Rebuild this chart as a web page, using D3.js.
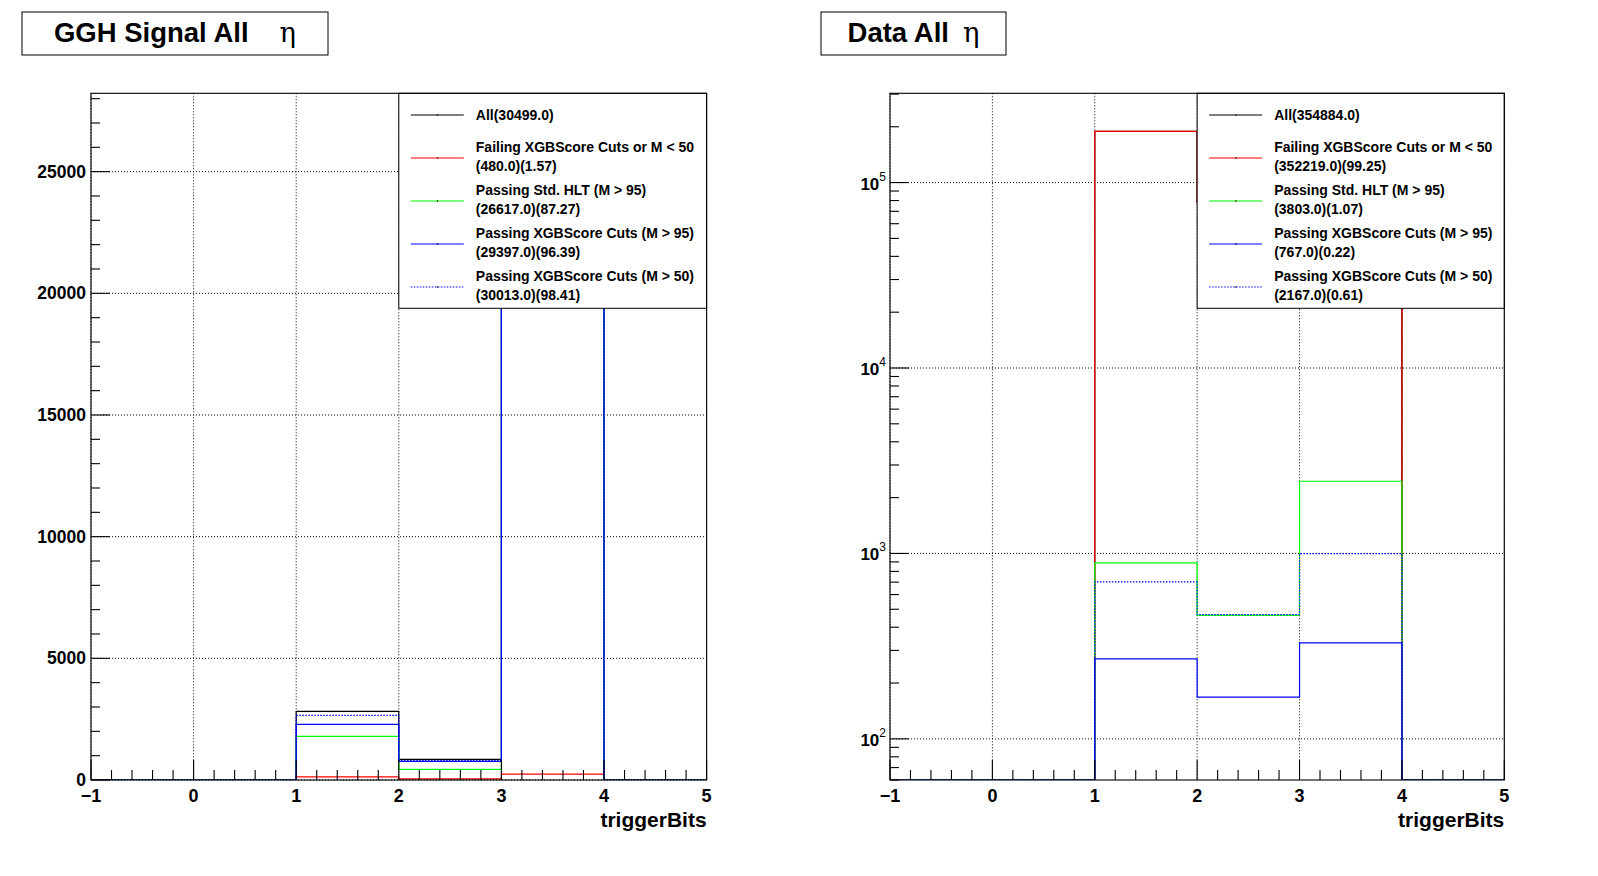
<!DOCTYPE html>
<html>
<head>
<meta charset="utf-8">
<script src="https://cdn.jsdelivr.net/npm/d3@7"></script>
<style>
	body { margin: 0; background: #fff; }
	svg text { font-family: "Liberation Sans", Arial, sans-serif; font-weight: bold; fill: #000; }
</style>
</head>
<body>
<div class="c-svg"></div>
<script>
//DATA
//-------------------------------------------------------------------------

//bin edges of triggerBits (6 bins of width 1)
const binEdges = [-1, 0, 1, 2, 3, 4, 5];

const seriesNames = [
	"All",
	"Failing XGBScore Cuts or M < 50",
	"Passing Std. HLT (M > 95)",
	"Passing XGBScore Cuts (M > 95)",
	"Passing XGBScore Cuts (M > 50)"
];

//GGH signal, bin contents per series
const sigAll    = [0, 0, 2822, 850, 26827, 0];
const sigFail   = [0, 0, 130, 45, 240, 0];
const sigStdHlt = [0, 0, 1795, 440, 24382, 0];
const sigXgb95  = [0, 0, 2288, 768, 26341, 0];
const sigXgb50  = [0, 0, 2658, 800, 26555, 0];
const sigTotals   = [30499.0, 480.0, 26617.0, 29397.0, 30013.0];
const sigPercents = [null, 1.57, 87.27, 96.39, 98.41];

//data, bin contents per series
const datAll    = [0, 0, 189000, 78900, 86984, 0];
const datFail   = [0, 0, 188800, 78000, 85419, 0];
const datStdHlt = [0, 0, 889, 463, 2451, 0];
const datXgb95  = [0, 0, 270, 168, 329, 0];
const datXgb50  = [0, 0, 702, 468, 997, 0];
const datTotals   = [354884.0, 352219.0, 3803.0, 767.0, 2167.0];
const datPercents = [null, 99.25, 1.07, 0.22, 0.61];

//tick values
const xTicks = [-1, 0, 1, 2, 3, 4, 5];
const linTicks = [0, 5000, 10000, 15000, 20000, 25000];
const logTicks = [100, 1000, 10000, 100000];


//STYLE
//-------------------------------------------------------------------------

const seriesStyle = [
	{ color: "#000000", dash: null },
	{ color: "#ff0000", dash: null },
	{ color: "#00ff00", dash: null },
	{ color: "#0000ff", dash: null },
	{ color: "#0000ff", dash: "1.5,1.5" }
];

const opts = { width: 1598, height: 876 };

const panels = [
	{
		title: "GGH Signal All", etaGap: 31,
		titleBox: { x: 22, y: 12, w: 306, h: 43 },
		frame: { left: 91, top: 93.3, right: 706.6, bottom: 780 },
		log: false, yMin: 0, yTop: 28220,
		series: [sigAll, sigFail, sigStdHlt, sigXgb95, sigXgb50],
		totals: sigTotals, percents: sigPercents
	},
	{
		title: "Data All", etaGap: 14,
		titleBox: { x: 821, y: 12, w: 185, h: 43 },
		frame: { left: 890, top: 93.3, right: 1504.3, bottom: 780 },
		log: true, yMin: 60, yTop: 303000,
		series: [datAll, datFail, datStdHlt, datXgb95, datXgb50],
		totals: datTotals, percents: datPercents
	}
];


//INITIALISATION svg
//-------------------------------------------------------------------------

const svg = d3.select(".c-svg")
	.append("svg")
	.attr("width", opts.width)
	.attr("height", opts.height);

panels.forEach((p, pi) => drawPanel(p, pi));


function drawPanel(p, pi) {

	const f = p.frame;
	const g = svg.append("g").attr("class", "panel" + pi);

	const x = d3.scaleLinear()
		.domain([binEdges[0], binEdges[binEdges.length - 1]])
		.range([f.left, f.right]);

	const y = (p.log ? d3.scaleLog() : d3.scaleLinear())
		.domain([p.yMin, p.yTop])
		.range([f.bottom, f.top]);

	//values at or under the minimum go to the frame bottom
	const yPos = (v) => (v <= p.yMin ? f.bottom : y(v));

	//TITLE
	//---------------------------------------------------------------------
	g.append("rect")
		.attr("x", p.titleBox.x).attr("y", p.titleBox.y)
		.attr("width", p.titleBox.w).attr("height", p.titleBox.h)
		.attr("fill", "#fff").attr("stroke", "#000").attr("stroke-width", 1);

	const title = g.append("text")
		.attr("x", p.titleBox.x + p.titleBox.w / 2)
		.attr("y", p.titleBox.y + 30)
		.attr("text-anchor", "middle")
		.style("font-size", "27.5px");
	title.append("tspan").text(p.title);
	title.append("tspan")
		.attr("dx", p.etaGap)
		.style("font-family", "'DejaVu Serif', 'Liberation Serif', serif")
		.style("font-weight", "normal")
		.text("η");

	//GRID
	//---------------------------------------------------------------------
	const clipId = "clip" + pi;
	g.append("clipPath").attr("id", clipId)
		.append("rect")
		.attr("x", f.left).attr("y", f.top)
		.attr("width", f.right - f.left).attr("height", f.bottom - f.top);

	const grid = g.append("g").attr("class", "grid")
		.attr("stroke", "#000").attr("stroke-width", 1).attr("stroke-dasharray", "1,2");

	grid.selectAll(".gx").data(xTicks).join("line")
		.attr("x1", (d) => x(d)).attr("x2", (d) => x(d))
		.attr("y1", f.top).attr("y2", f.bottom);

	const yMajor = p.log ? logTicks : linTicks;
	grid.selectAll(".gy").data(yMajor).join("line")
		.attr("x1", f.left).attr("x2", f.right)
		.attr("y1", (d) => y(d)).attr("y2", (d) => y(d));

	//HISTOGRAMS
	//---------------------------------------------------------------------
	const line = d3.line()
		.x((d) => x(d[0]))
		.y((d) => yPos(d[1]));

	const hists = g.append("g").attr("clip-path", `url(#${clipId})`);

	p.series.forEach((vals, si) => {
		const pts = [];
		vals.forEach((v, i) => {
			pts.push([binEdges[i], v]);
			pts.push([binEdges[i + 1], v]);
		});
		hists.append("path")
			.attr("d", line(pts))
			.attr("fill", "none")
			.attr("stroke", seriesStyle[si].color)
			.attr("stroke-width", 1.2)
			.attr("stroke-dasharray", seriesStyle[si].dash);
	});

	//LEGEND
	//---------------------------------------------------------------------
	const lg = g.append("g").attr("class", "legend");
	const lx = x(2);
	lg.append("rect")
		.attr("x", lx).attr("y", f.top)
		.attr("width", f.right - lx).attr("height", 215)
		.attr("fill", "#fff").attr("stroke", "#000").attr("stroke-width", 1);

	seriesNames.forEach((name, si) => {
		const sy = f.top + 21.7 + si * 43;
		lg.append("line")
			.attr("x1", lx + 12).attr("x2", lx + 65)
			.attr("y1", sy).attr("y2", sy)
			.attr("stroke", seriesStyle[si].color)
			.attr("stroke-width", 1.2)
			.attr("stroke-dasharray", seriesStyle[si].dash);
		lg.append("rect")
			.attr("x", lx + 38).attr("y", sy - 0.6)
			.attr("width", 1.4).attr("height", 1.2)
			.attr("fill", "#000");

		const t = lg.append("text").style("font-size", "14px");
		if (p.percents[si] === null) {
			t.attr("x", lx + 77).attr("y", sy + 5)
				.text(`${name}(${p.totals[si].toFixed(1)})`);
		} else {
			t.append("tspan").attr("x", lx + 77).attr("y", sy - 6)
				.text(name);
			t.append("tspan").attr("x", lx + 77).attr("y", sy + 13)
				.text(`(${p.totals[si].toFixed(1)})(${p.percents[si].toFixed(2)})`);
		}
	});

	//AXES
	//---------------------------------------------------------------------
	const ax = g.append("g").attr("class", "axes")
		.attr("stroke", "#000").attr("stroke-width", 1.1);

	//x ticks
	const xMinor = [];
	xTicks.slice(0, -1).forEach((t) => {
		[0.2, 0.4, 0.6, 0.8].forEach((s) => xMinor.push(t + s));
	});
	ax.selectAll(".xt").data(xTicks).join("line")
		.attr("x1", (d) => x(d)).attr("x2", (d) => x(d))
		.attr("y1", f.bottom).attr("y2", f.bottom - 20);
	ax.selectAll(".xm").data(xMinor).join("line")
		.attr("x1", (d) => x(d)).attr("x2", (d) => x(d))
		.attr("y1", f.bottom).attr("y2", f.bottom - 10);

	//y ticks
	let yMinor = [];
	if (p.log) {
		[10, 100, 1000, 10000, 100000].forEach((dec) => {
			d3.range(2, 10).forEach((k) => yMinor.push(k * dec));
		});
	} else {
		yMinor = d3.range(1000, p.yTop, 1000).filter((v) => v % 5000 !== 0);
	}
	yMinor = yMinor.filter((v) => v >= p.yMin && v <= p.yTop);

	ax.selectAll(".yt").data(yMajor).join("line")
		.attr("x1", f.left).attr("x2", f.left + 19)
		.attr("y1", (d) => y(d)).attr("y2", (d) => y(d));
	ax.selectAll(".ym").data(yMinor).join("line")
		.attr("x1", f.left).attr("x2", f.left + 9)
		.attr("y1", (d) => y(d)).attr("y2", (d) => y(d));

	//frame
	ax.append("rect")
		.attr("x", f.left).attr("y", f.top)
		.attr("width", f.right - f.left).attr("height", f.bottom - f.top)
		.attr("fill", "none");

	//labels
	g.selectAll(".xl").data(xTicks).join("text")
		.attr("x", (d) => x(d)).attr("y", f.bottom + 22)
		.attr("text-anchor", "middle")
		.style("font-size", "18px")
		.text((d) => (d < 0 ? "\u2212" + Math.abs(d) : d));

	if (p.log) {
		const yl = g.selectAll(".yl").data(yMajor).join("text")
			.attr("x", f.left - 4).attr("y", (d) => y(d) + 7)
			.attr("text-anchor", "end")
			.style("font-size", "17px");
		yl.append("tspan").text("10");
		yl.append("tspan")
			.attr("dy", -9)
			.style("font-size", "12px")
			.style("font-weight", "normal")
			.text((d) => Math.round(Math.log10(d)));
	} else {
		g.selectAll(".yl").data(yMajor).join("text")
			.attr("x", f.left - 5).attr("y", (d) => y(d) + 6)
			.attr("text-anchor", "end")
			.style("font-size", "17.5px")
			.text((d) => d);
	}

	g.append("text")
		.attr("x", f.right).attr("y", f.bottom + 47)
		.attr("text-anchor", "end")
		.style("font-size", "21px")
		.text("triggerBits");
}
</script>
</body>
</html>
